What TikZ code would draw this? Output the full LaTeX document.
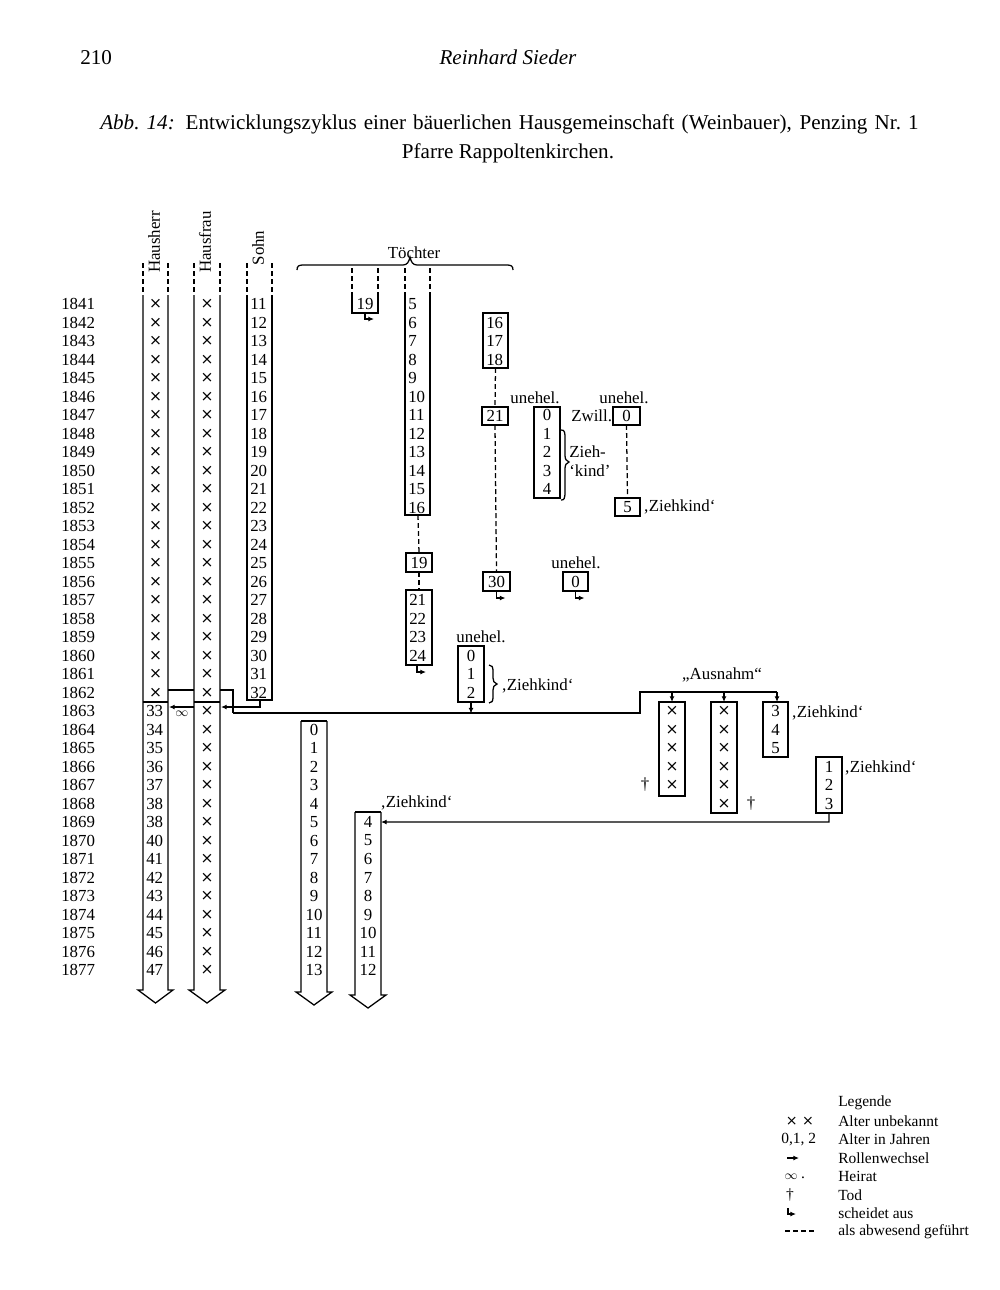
\documentclass[tikz,border=0pt]{standalone}
\usepackage{fontspec}
\setmainfont{Liberation Serif}
\newfontfamily\xfont{DejaVu Sans}
\usetikzlibrary{arrows.meta}
\newcommand\cx{{\xfont\fontsize{11}{11}\selectfont ×}}
\newcommand\pxbox[5]{\node[bx, minimum width={(#4-#2)*0.25mm}, minimum height={(#5-#3)*0.25mm}] (#1) at ({(#2+#4)/2},{(#3+#5)/2}) {};}
\newcommand\colarrow[4]{\draw[ln] (#1,#3) -- (#1,#4) -- (#1-5,#4) -- ({(#1+#2)/2},#4+13) -- (#2+5,#4) -- (#2,#4) -- (#2,#3);}
\begin{document}
\begin{tikzpicture}[x=0.025cm,y=-0.025cm,
  declare function={yr(\n)=304+18.5*(\n-1841);},
  every node/.style={font=\fontsize{12}{13}\selectfont, inner sep=0pt},
  ln/.style={line width=0.9pt},
  dsh/.style={line width=0.9pt, dash pattern=on 3.5pt off 2.2pt},
  bx/.style={draw, line width=0.9pt, inner sep=0pt, outer sep=0pt},
  tip/.style={-{Latex[length=4pt,width=3.5pt]}},
  big/.style={font=\fontsize{15}{17}\selectfont},
  leg/.style={font=\fontsize{11}{13}\selectfont},
]
\useasboundingbox (0,0) rectangle (1000,1290);
\fill[white] (0,0) rectangle (1000,1290);

% header
\node[big, anchor=west] (pg) at (80,58) {210};
\node[font=\fontsize{15}{17}\selectfont\itshape] (au) at (508,57) {Reinhard Sieder};
\node[big, anchor=west] (cap1) at (100,124) {\makebox[582pt][s]{\textit{Abb.~14:} Entwicklungszyklus einer bäuerlichen Hausgemeinschaft (Weinbauer), Penzing Nr.~1}};
\node[big] (cap2) at (508,153) {Pfarre Rappoltenkirchen.};

% column headers
\node[rotate=90] (hHH) at (154,242) {Hausherr};
\node[rotate=90] (hHF) at (205,242) {Hausfrau};
\node[rotate=90] (hSO) at (258,248) {Sohn};
\foreach \x in {143,168,194,220,247,272} \draw[dsh] (\x,263) -- (\x,295);
\foreach \x in {352,378,405,430} \draw[dsh] (\x,268) -- (\x,295);

% Toechter brace
\node (tch) at (414,253) {Töchter};
\draw[ln] (297,270) .. controls (297,266) and (299,265) .. (303,265) -- (403,265) .. controls (407,265) and (409,262) .. (410,257) .. controls (411,262) and (413,265) .. (417,265) -- (507,265) .. controls (511,265) and (513,266) .. (513,270);

% years
\foreach \y in {1841,...,1877} \node[anchor=west] (yr\y) at (61,{yr(\y)}) {\y};

% Hausherr
\colarrow{143}{168}{295}{990}
\draw[ln] (143,702) -- (168,702);
\foreach \y in {1841,...,1862} \node (hh\y) at (155.5,{yr(\y)}) {\cx};
\foreach \y/\a in {1863/33,1864/34,1865/35,1866/36,1867/37,1868/38,1869/38,1870/40,1871/41,1872/42,1873/43,1874/44,1875/45,1876/46,1877/47}
  \node[anchor=west] (hh\y) at (146,{yr(\y)}) {\a};

% Hausfrau
\colarrow{194}{220}{295}{990}
\draw[ln] (194,702) -- (220,702);
\foreach \y in {1841,...,1877} \node (hf\y) at (207,{yr(\y)}) {\cx};

% Sohn
\draw[ln] (247,295) -- (247,700) -- (272,700) -- (272,295);
\foreach \y [evaluate=\y as \a using int(\y-1830)] in {1841,...,1862}
  \node[anchor=west] (so\y) at (250,{yr(\y)}) {\a};

% junction 1862/63
\coordinate (jA) at (233,690);
\coordinate (jB) at (233,713);
\draw[ln] (168,690) -- (194,690);
\draw[ln, tip] (194,707) -- (169,707);
\node[font=\fontsize{9}{10}\selectfont] (heirat) at (182,714) {$\infty$};
\draw[ln] (220,690) -- (jA) -- (jB);
\draw[ln, tip] (260,700) -- (260,707) -- (221,707);

% Daughter 1
\draw[ln] (352,295) -- (352,313) -- (378,313) -- (378,295);
\node (d1) at (365,{yr(1841)}) {19};
\draw[ln, tip] (365,313) -- ++(0,6) -- ++(9,0);

% Daughter 2
\draw[ln] (405,295) -- (405,515) -- (430,515) -- (430,295);
\coordinate (d2end) at (418,515);
\foreach \y [evaluate=\y as \a using int(\y-1836)] in {1841,...,1852}
  \node[anchor=west] (dz\y) at (408,{yr(\y)}) {\a};
\pxbox{b19}{406}{553}{432}{572}
\node at (b19) {19};
\pxbox{b2124}{406}{590}{432}{665}
\foreach \y [evaluate=\y as \a using int(\y-1836)] in {1857,...,1860}
  \node[anchor=west] (dy\y) at (409,{yr(\y)}) {\a};
\draw[dsh] (d2end) -- (b19.north);
\draw[dsh] (b19.south) -- (b2124.north);
\draw[ln, tip] ([xshift=-0.5mm]b2124.south) -- ++(0,7) -- ++(9,0);

% Daughter 3
\pxbox{b1618}{483}{313}{508}{368}
\foreach \y/\a in {1842/16,1843/17,1844/18} \node[anchor=west] (dt\y) at (486,{yr(\y)}) {\a};
\pxbox{b21}{482}{407}{508}{425}
\node at (b21) {21};
\pxbox{b30}{483}{572}{510}{591}
\node at (b30) {30};
\draw[dsh] (b1618.south) -- (b21.north);
\draw[dsh] (b21.south) -- (b30.north);
\draw[ln, tip] (b30.south) -- ++(0,7) -- ++(9,0);

% unehel. 0-4
\node (ue1) at (535,398) {unehel.};
\pxbox{u04}{534}{407}{560}{498}
\foreach \y/\a in {1847/0,1848/1,1849/2,1850/3,1851/4} \node (uu\y) at (547,{yr(\y)}) {\a};
\draw[ln] (561,430) .. controls (565,430) and (565,432) .. (565,440) -- (565,455) .. controls (565,459) and (566,461) .. (569,462) .. controls (566,463) and (565,465) .. (565,469) -- (565,492) .. controls (565,499) and (564,500) .. (561,500);
\node[anchor=west] (zk1) at (569,452) {Zieh-};
\node[anchor=west] (zk2) at (569,471) {‘kind’};

% Zwill.
\node[anchor=west] (zw) at (571,416) {Zwill.};
\node (ue2) at (624,398) {unehel.};
\pxbox{z0}{613}{407}{640}{425}
\node at (z0) {0};
\pxbox{z5}{615}{498}{640}{516}
\node at (z5) {5};
\draw[dsh] (z0.south) -- (z5.north);
\node[anchor=west] (zk3) at (643,507) {‚Ziehkind‘};

% unehel. 1856
\node (ue3) at (576,563) {unehel.};
\pxbox{u56}{563}{572}{588}{591}
\node at (u56) {0};
\draw[ln, tip] (u56.south) -- ++(0,7) -- ++(9,0);

% unehel. 0,1,2 (1860-62)
\node (ue4) at (481,637) {unehel.};
\pxbox{u60}{458}{646}{484}{702}
\foreach \y/\a in {1860/0,1861/1,1862/2} \node (uv\y) at (471,{yr(\y)}) {\a};
\draw[ln] (489,665) .. controls (492,665) and (493,667) .. (493,671) -- (493,678) .. controls (493,681) and (494,683) .. (497,684) .. controls (494,685) and (493,687) .. (493,690) -- (493,697) .. controls (493,701) and (492,703) .. (489,703);
\node[anchor=west] (zk4) at (501,686) {‚Ziehkind‘};

% long line to Ausnahm
\coordinate (jC) at (640,713);
\coordinate (jD) at (640,692);
\coordinate (jE) at (777,692);
\draw[ln] (jB) -- (jC) -- (jD) -- (jE);
\draw[ln, tip] (471,702) -- (471,713.5);

% Ausnahm
\node (aus) at (722,675) {„Ausnahm“};
\pxbox{bA}{659}{702}{685}{796}
\pxbox{bB}{711}{702}{737}{813}
\pxbox{bC}{763}{702}{788}{757}
\pxbox{bD}{816}{757}{842}{813}
\draw[ln, tip] (bA.north |- jD) -- (bA.north);
\draw[ln, tip] (bB.north |- jD) -- (bB.north);
\draw[ln, tip] (jE) -- (jE |- bC.north);
\foreach \y in {1863,...,1867} \node (xa\y) at (672,{yr(\y)}) {\cx};
\foreach \y in {1863,...,1868} \node (xb\y) at (724,{yr(\y)}) {\cx};
\foreach \y/\a in {1863/3,1864/4,1865/5} \node (xc\y) at (775.5,{yr(\y)}) {\a};
\foreach \y/\a in {1866/1,1867/2,1868/3} \node (xd\y) at (829,{yr(\y)}) {\a};
\node (tA) at (645,{yr(1867)}) {†};
\node (tB) at (751,{yr(1868)}) {†};
\node[anchor=west] (zk5) at (791,713) {‚Ziehkind‘};
\node[anchor=west] (zk6) at (844,768) {‚Ziehkind‘};

% child column
\colarrow{301}{327}{721}{992}
\draw[ln] (301,721) -- (327,721);
\foreach \y [evaluate=\y as \a using int(\y-1864)] in {1864,...,1877}
  \node (ch\y) at (314,{yr(\y)}) {\a};

% Ziehkind column
\colarrow{355}{381}{812}{995}
\draw[ln] (355,812) -- (381,812);
\coordinate (zcol) at (381,822);
\foreach \y [evaluate=\y as \a using int(\y-1865)] in {1869,...,1877}
  \node (zc\y) at (368,{yr(\y)}) {\a};
\node[anchor=west] (zk7) at (380,803) {‚Ziehkind‘};
\draw[ln, tip] (bD.south) -- ++(0,9) -- (zcol);

% legend
\node[leg, anchor=west] (lg) at (838,1103) {Legende};
\node[leg, anchor=west] (l1) at (838,1121) {Alter unbekannt};
\node[leg, anchor=west] (l2) at (838,1139.5) {Alter in Jahren};
\node[leg, anchor=west] (l3) at (838,1158) {Rollenwechsel};
\node[leg, anchor=west] (l4) at (838,1176.5) {Heirat};
\node[leg, anchor=west] (l5) at (838,1195) {Tod};
\node[leg, anchor=west] (l6) at (838,1213.5) {scheidet aus};
\node[leg, anchor=west] (l7) at (838,1232) {als abwesend geführt};
\node[leg] (s1) at (800,1121) {{\xfont\fontsize{10}{10}\selectfont × ×}};
\node[leg, anchor=west] (s2) at (781,1139.5) {0,1, 2};
\draw[ln, tip] (787,1158) -- (799,1158);
\node[font=\fontsize{9}{10}\selectfont] (s4) at (791,1177) {$\infty$};
\node[leg] (s4b) at (803,1178) {.};
\node[leg] (s5) at (790,1195) {†};
\draw[ln, tip] (788,1208) -- ++(0,6) -- ++(8,0);
\draw[dsh] (785,1231) -- (815,1231);
\end{tikzpicture}
\end{document}
